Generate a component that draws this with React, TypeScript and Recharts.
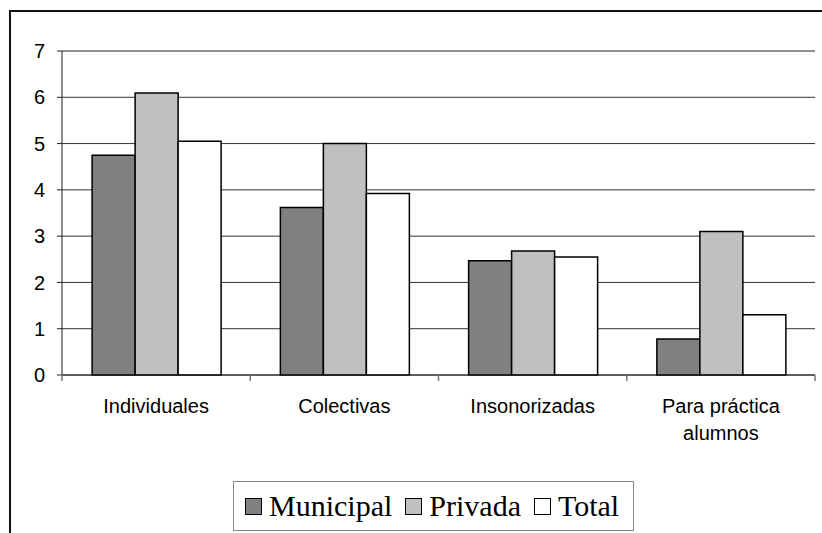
import React from "react";
import {
  BarChart,
  Bar,
  XAxis,
  YAxis,
  CartesianGrid,
  ReferenceLine,
} from "recharts";

const categories = ["Individuales", "Colectivas", "Insonorizadas", "Para práctica\nalumnos"];
const municipal = [4.75, 3.62, 2.47, 0.78];
const privada = [6.09, 5.0, 2.68, 3.1];
const total = [5.05, 3.92, 2.55, 1.3];
const yTicks = [0, 1, 2, 3, 4, 5, 6, 7];

const series = [
  { key: "municipal", name: "Municipal", fill: "#808080" },
  { key: "privada", name: "Privada", fill: "#c0c0c0" },
  { key: "total", name: "Total", fill: "#ffffff" },
];

const data = categories.map((c, i) => ({
  name: c,
  municipal: municipal[i],
  privada: privada[i],
  total: total[i],
}));

const sans = "'Liberation Sans', Arial, sans-serif";
const serif = "'Liberation Serif', 'Times New Roman', serif";

// category label plus the small tick marks at the category edges
function CatTick(props: any) {
  const { x, y, payload, width, visibleTicksCount, index } = props;
  const lines = String(payload.value).split("\n");
  const band = width / visibleTicksCount;
  const edges = [x - band / 2];
  if (index === visibleTicksCount - 1) edges.push(x + band / 2);
  return (
    <g>
      {edges.map((ex, i) => (
        <line key={"t" + i} x1={ex} x2={ex} y1={y} y2={y + 6} stroke="#777" strokeWidth={1.5} />
      ))}
      {lines.map((l, i) => (
        <text
          key={i}
          x={x}
          y={y + 38 + i * 27}
          textAnchor="middle"
          fontFamily={sans}
          fontSize={20}
          fill="#000"
        >
          {l}
        </text>
      ))}
    </g>
  );
}

export default function App() {
  return (
    <div style={{ position: "absolute", left: 0, top: 0, width: 822, height: 533, background: "#fff" }}>
      <div
        style={{
          position: "absolute",
          left: 9,
          top: 10,
          width: 813,
          height: 523,
          borderLeft: "2px solid #111",
          borderTop: "2px solid #111",
        }}
      />
      <div style={{ position: "absolute", left: 0, top: 0 }}>
        <BarChart
          width={822}
          height={533}
          data={data}
          margin={{ top: 51, right: 7, left: 0, bottom: 98 }}
          barGap={0}
          barCategoryGap="16%"
        >
          <CartesianGrid vertical={false} stroke="#333" />
          <XAxis
            dataKey="name"
            height={60}
            axisLine={{ stroke: "#222" }}
            tickLine={false}
            tickSize={0}
            tickMargin={0}
            interval={0}
            tick={<CatTick />}
          />
          <YAxis
            domain={[0, 7]}
            ticks={yTicks}
            width={62}
            tickSize={5}
            tickMargin={12}
            stroke="#222"
            tick={{ fill: "#000", fontFamily: sans, fontSize: 20 }}
          />
          <YAxis
            yAxisId="right"
            orientation="right"
            domain={[0, 7]}
            width={0}
            tick={false}
            tickLine={false}
            stroke="#888"
          />
          <ReferenceLine y={7} stroke="#888" />
          {series.map((s) => (
            <Bar
              key={s.key}
              dataKey={s.key}
              name={s.name}
              fill={s.fill}
              stroke="#000"
              strokeWidth={1.5}
              isAnimationActive={false}
            />
          ))}
        </BarChart>
      </div>
      <div
        style={{
          position: "absolute",
          left: 233,
          top: 481,
          width: 401,
          height: 50,
          border: "1px solid #888",
          background: "#fff",
          display: "flex",
          alignItems: "center",
          justifyContent: "flex-start",
          paddingLeft: 11,
          fontFamily: serif,
          fontSize: 30,
          color: "#000",
          boxSizing: "border-box",
          whiteSpace: "nowrap",
        }}
      >
        {series.map((s) => (
          <span key={s.key} style={{ display: "flex", alignItems: "center", marginRight: 13 }}>
            <span
              style={{
                display: "inline-block",
                width: 17,
                height: 17,
                background: s.fill,
                border: "1.5px solid #000",
                boxSizing: "border-box",
                marginRight: 7,
              }}
            />
            {s.name}
          </span>
        ))}
      </div>
    </div>
  );
}
